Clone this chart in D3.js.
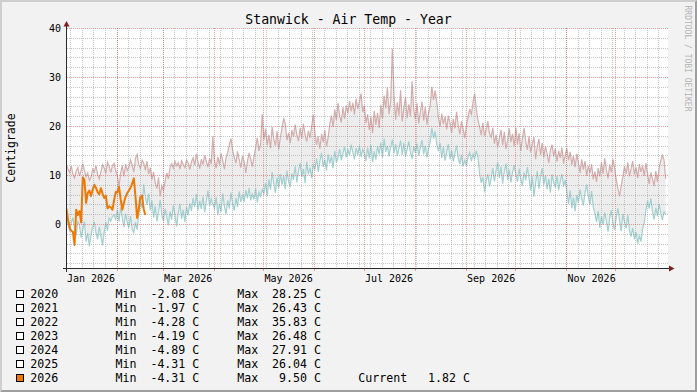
<!DOCTYPE html>
<html>
<head>
<meta charset="utf-8">
<script src="https://cdn.jsdelivr.net/npm/d3@7"></script>
<style>
body { margin: 0; background: #f2f2f2; }
svg { display: block; }
text { font-family: "DejaVu Sans Mono", monospace; }
</style>
</head>
<body>
<script>
// daily max of the previous years (pink line)
var prevMax = [
  // Jan
  12.0, 11.2, 10.5, 11.8, 10.2, 9.4, 10.8, 11.5, 9.8, 10.9, 12.3, 11.0, 9.6, 10.4, 8.9, 9.5, 11.2, 10.6, 11.9, 10.1, 9.2, 10.7, 12.1, 11.4, 10.3, 12.6, 11.8, 10.5, 11.9, 12.4, 10.8,
  // Feb
  9.8, 7.6, 10.4, 11.9, 9.7, 12.2, 10.9, 11.6, 13.1, 12.0, 10.6, 13.4, 14.2, 12.1, 11.3, 13.0, 12.4, 11.0, 12.8, 10.2, 11.5, 9.1, 10.6, 8.4, 7.2, 9.5, 5.6, 7.8,
  // Mar
  6.9, 8.8, 10.4, 9.2, 11.6, 12.3, 11.4, 12.8, 11.9, 12.5, 11.2, 12.9, 12.1, 11.5, 13.0, 12.4, 11.1, 12.7, 13.5, 12.0, 14.3, 12.6, 11.3, 13.2, 12.1, 14.0, 12.8, 11.6, 13.4, 12.2, 17.9,
  // Apr
  12.8, 11.4, 13.7, 12.1, 14.4, 12.9, 11.2, 13.5, 14.6, 16.2, 17.4, 15.1, 13.6, 12.4, 14.8, 13.1, 11.5, 13.9, 12.6, 10.4, 12.8, 14.5, 13.2, 11.7, 13.8, 15.6, 17.6, 14.9, 16.3, 22.4,
  // May
  17.2, 19.4, 16.1, 18.2, 15.4, 19.8, 17.3, 16.0, 18.9, 15.2, 17.7, 19.5, 21.6, 20.4, 17.1, 18.6, 16.5, 19.2, 17.8, 20.3, 18.1, 16.9, 19.6, 17.4, 20.5, 18.3, 16.8, 19.0, 17.5, 19.9, 22.3,
  // Jun
  18.6, 16.2, 17.9, 15.3, 18.4, 16.7, 19.1, 15.8, 17.6, 20.4, 22.1, 19.8, 23.4, 21.2, 24.6, 22.0, 20.7, 23.8, 21.5, 24.2, 22.6, 25.1, 23.0, 24.7, 22.3, 25.6, 23.5, 24.9, 26.6, 22.8,
  // Jul
  24.1, 20.6, 22.4, 19.2, 21.8, 18.5, 23.1, 20.2, 22.7, 19.6, 24.3, 21.5, 26.2, 23.6, 27.9, 22.4, 25.1, 35.8, 26.4, 21.3, 24.8, 22.1, 27.3, 20.9, 23.7, 25.9, 21.6, 24.4, 22.0, 29.1, 23.2,
  // Aug
  21.4, 24.6, 20.5, 22.8, 25.0, 21.1, 23.9, 20.3, 22.6, 24.2, 28.0, 25.3, 27.2, 24.8, 21.6, 19.8, 22.5, 20.4, 21.9, 19.3, 22.1, 20.7, 18.6, 21.4, 19.5, 22.9, 20.2, 18.3, 21.0, 19.4, 17.5,
  // Sep
  20.1, 21.8, 23.5, 22.2, 24.9, 26.6, 23.4, 21.2, 19.8, 18.1, 20.6, 17.9, 19.3, 21.0, 18.4, 17.7, 19.6, 16.4, 18.2, 15.6, 17.5, 19.2, 16.1, 18.8, 15.3, 17.0, 19.5, 16.7, 18.4, 15.8,
  // Oct
  19.7, 16.2, 18.5, 14.9, 17.4, 19.6, 16.8, 15.1, 17.9, 14.6, 16.3, 17.7, 13.2, 15.8, 17.3, 14.1, 16.5, 13.6, 15.9, 14.3, 12.4, 15.1, 16.2, 13.8, 15.4, 12.7, 14.9, 13.5, 15.6, 12.3, 14.1,
  // Nov
  15.4, 13.0, 14.7, 12.1, 13.9, 11.6, 14.3, 12.5, 10.4, 13.2, 11.1, 12.8, 9.8, 11.9, 10.3, 12.2, 9.1, 10.7, 8.6, 11.4, 9.7, 12.6, 10.2, 13.4, 11.0, 9.3, 12.1, 10.5, 13.2, 11.4,
  // Dec
  9.0, 7.2, 5.6, 7.8, 9.6, 11.8, 10.2, 12.5, 9.7, 11.3, 12.8, 10.1, 11.6, 9.4, 12.2, 10.6, 11.9, 9.8, 12.4, 10.3, 8.1, 10.5, 9.2, 7.7, 10.8, 8.6, 11.3, 12.9, 14.0, 13.1, 9.2
];

// daily min of the previous years (teal line)
var prevMin = [
  // Jan
  -0.4, 0.8, -1.6, 0.2, 1.3, -0.9, -2.4, 0.6, -0.3, -2.8, -1.2, 0.5, -3.6, -1.9, -4.6, -2.2, -0.7, 0.4, -1.8, -3.1, -0.6, -2.5, -4.4, -1.7, 0.3, -1.4, 1.2, 0.6, 1.5, 1.8, 0.9,
  // Feb
  2.8, 0.5, 3.4, 1.2, -0.6, 2.1, 0.4, -0.8, 1.6, -1.1, -1.8, 0.3, -1.2, 1.9, 4.6, 3.2, 8.1, 5.4, 3.9, 6.2, 2.7, 4.8, 1.3, 3.6, 0.5, 2.4, 4.9, 1.8,
  // Mar
  0.6, 3.1, 1.4, -0.3, 2.5, 0.9, 3.8, 1.7, -0.5, 2.2, 4.1, 1.0, 2.9, 0.4, 3.5, 1.8, 4.2, 2.6, 5.3, 3.4, 6.1, 2.8, 4.7, 3.0, 5.6, 2.4, 4.4, 6.8, 3.7, 5.1, 4.0,
  // Apr
  3.2, 5.5, 1.8, 4.1, 2.5, 6.2, 3.6, 2.0, 4.8, 3.1, 6.4, 4.0, 2.7, 5.3, 3.4, 6.6, 4.5, 5.8, 4.6, 6.9, 5.2, 7.3, 4.8, 6.1, 5.0, 7.2, 4.4, 6.5, 5.6, 7.0,
  // May
  6.2, 8.4, 5.7, 9.1, 7.0, 10.6, 8.2, 6.3, 9.5, 7.4, 10.2, 8.0, 9.8, 7.1, 10.9, 8.6, 7.8, 10.3, 9.0, 11.8, 8.5, 10.7, 12.4, 9.6, 11.2, 8.3, 12.7, 10.1, 11.5, 9.4, 12.0,
  // Jun
  11.2, 13.4, 10.6, 12.8, 14.5, 11.7, 13.1, 10.9, 14.2, 12.3, 13.8, 11.4, 14.9, 12.6, 13.5, 15.3, 13.0, 14.4, 15.8, 13.6, 15.1, 14.0, 16.2, 14.6, 13.2, 15.5, 14.1, 16.0, 13.7, 15.2,
  // Jul
  14.3, 12.8, 15.6, 13.4, 16.1, 12.6, 14.8, 13.1, 15.9, 14.2, 16.6, 13.5, 17.4, 14.7, 16.0, 13.8, 15.7, 17.2, 14.4, 16.3, 13.9, 15.4, 17.0, 14.1, 16.5, 13.7, 15.2, 16.8, 14.6, 13.3, 15.9,
  // Aug
  14.5, 16.4, 13.9, 15.6, 17.1, 14.2, 16.0, 13.6, 15.3, 16.7, 19.6, 17.4, 18.9, 16.2, 14.8, 16.5, 13.4, 15.7, 12.9, 14.6, 16.3, 13.2, 15.0, 12.7, 14.4, 16.0, 13.5, 12.2, 14.1, 11.8, 13.0,
  // Sep
  11.9, 13.7, 14.6, 12.8, 14.2, 13.3, 14.9, 13.6, 10.2, 8.4, 9.6, 6.5, 8.8, 10.1, 7.6, 9.3, 11.4, 8.7, 10.8, 12.5, 9.4, 11.7, 8.2, 10.6, 12.3, 9.0, 11.1, 8.5, 10.4, 12.0,
  // Oct
  10.2, 8.6, 11.3, 9.1, 7.8, 10.5, 8.9, 11.6, 9.4, 6.8, 9.7, 5.6, 8.3, 10.8, 7.2, 9.5, 11.4, 8.0, 9.9, 7.1, 9.2, 6.4, 10.1, 8.5, 7.4, 9.8, 6.9, 8.7, 10.2, 7.6, 9.0,
  // Nov
  6.5, 4.1, 6.8, 3.2, 5.4, 2.6, 5.9, 4.3, 7.0, 5.1, 3.8, 6.3, 8.1, 5.6, 4.0, 6.7, 3.5, 2.1, 0.4, 2.6, -0.8, 1.5, -0.2, 2.3, 0.6, -1.6, 1.2, 2.8, 0.1, -1.2,
  // Dec
  1.4, 3.2, 0.7, -1.5, 2.0, 0.3, -0.9, 1.8, -1.3, -2.6, -0.8, -3.1, -1.7, -4.0, -2.4, -3.6, -1.0, 0.2, 2.8, 4.6, 3.1, 5.2, 2.4, 0.9, 3.3, 1.6, 4.0, 2.2, 0.8, 2.5, 1.9
];

// this year so far
var temp2026 = [
  3.2, 1.0, -0.8, -1.4, -1.6, -4.3, 2.9, 1.8, 2.6, 0.3, 9.5, 9.0, 4.3, 6.3, 6.8, 5.7, 7.0, 8.0, 7.4, 6.5,
  6.0, 7.3, 6.2, 5.3, 5.8, 3.2, 3.6, 3.4, 2.9, 4.8, 6.5, 6.4, 7.6, 5.0, 2.9, 4.3, 5.6, 6.3, 6.8, 7.4,
  8.2, 9.3, 5.6, 1.2, 3.0, 5.5, 5.8, 3.0, 1.82
];

var years = ["2020", "2021", "2022", "2023", "2024", "2025", "2026"];
var yearMin = [-2.08, -1.97, -4.28, -4.19, -4.89, -4.31, -4.31];
var yearMax = [28.25, 26.43, 35.83, 26.48, 27.91, 26.04, 9.50];
var currentVal = 1.82;

var yMajor = [0, 10, 20, 30, 40];

var W = 697, H = 392;
var pL = 67, pR = 668, pT = 28, pB = 268;
var orange = "#f07800";

var svg = d3.select("body").append("svg")
    .attr("width", W)
    .attr("height", H);

// background + 3d frame
svg.append("rect").attr("width", W).attr("height", H).attr("fill", "#f2f2f2");
svg.append("path")
    .attr("d", "M0," + H + "L2," + (H - 2) + "L2,2L" + (W - 2) + ",2L" + W + ",0L0,0Z")
    .attr("fill", "#cfcfcf");
svg.append("path")
    .attr("d", "M2," + (H - 2) + "L" + (W - 2) + "," + (H - 2) + "L" + (W - 2) + ",2L" + W + ",0L" + W + "," + H + "L0," + H + "Z")
    .attr("fill", "#9e9e9e");

var t0 = new Date(Date.UTC(2026, 0, 1)),
    t1 = new Date(Date.UTC(2027, 0, 1));

var x = d3.scaleUtc().domain([t0, t1]).range([65.5, 666.5]);
var y = d3.scaleLinear().domain([-9, 40]).range([pB, pT]);

function dayDate(i) { return new Date(t0.getTime() + (i + 0.5) * 864e5); }

svg.append("defs").append("clipPath").attr("id", "clip")
  .append("rect")
    .attr("x", pL).attr("y", pT)
    .attr("width", pR - pL).attr("height", pB - pT);

svg.append("rect")
    .attr("x", pL).attr("y", pT)
    .attr("width", pR - pL).attr("height", pB - pT)
    .attr("fill", "#ffffff");

var plot = svg.append("g").attr("clip-path", "url(#clip)");

// band between min and max of earlier years
var band = d3.area()
    .x(function(d, i) { return x(dayDate(i)); })
    .y0(function(d, i) { return y(prevMin[i]); })
    .y1(function(d) { return y(d); });

plot.append("path")
    .datum(prevMax)
    .attr("d", band)
    .attr("fill", "#ededed");

// grid
var grid = svg.append("g");
var minorC = "rgba(143,143,143,0.5)", majorC = "rgba(222,79,79,0.55)";

d3.range(-8, 40, 2).filter(function(v) { return v % 10 !== 0; }).forEach(function(v) {
  var yy = Math.round(y(v)) + 0.5;
  grid.append("line").attr("x1", pL).attr("x2", pR).attr("y1", yy).attr("y2", yy)
      .attr("stroke", minorC).attr("stroke-dasharray", "1,1");
});

var weeks = d3.utcSunday.range(d3.utcDay.offset(t0, 1), t1);
weeks.forEach(function(d) {
  var xx = Math.round(x(d)) + 0.5;
  if (xx <= pL || xx >= pR) return;
  grid.append("line").attr("x1", xx).attr("x2", xx).attr("y1", pT).attr("y2", pB)
      .attr("stroke", minorC).attr("stroke-dasharray", "1,1");
});

yMajor.forEach(function(v) {
  var yy = Math.round(y(v)) + 0.5;
  grid.append("line").attr("x1", pL).attr("x2", pR).attr("y1", yy).attr("y2", yy)
      .attr("stroke", majorC).attr("stroke-dasharray", "1,1");
});

var months = d3.utcMonth.range(d3.utcDay.offset(t0, 1), t1);
months.forEach(function(d) {
  var xx = Math.round(x(d)) + 0.5;
  grid.append("line").attr("x1", xx).attr("x2", xx).attr("y1", pT).attr("y2", pB)
      .attr("stroke", majorC).attr("stroke-dasharray", "1,1");
  grid.append("line").attr("x1", xx).attr("x2", xx).attr("y1", pB).attr("y2", pB + 3)
      .attr("stroke", majorC);
});

// lines
var line = d3.line()
    .x(function(d, i) { return x(dayDate(i)); })
    .y(function(d) { return y(d); });

plot.append("path").datum(prevMax).attr("d", line)
    .attr("fill", "none").attr("stroke", "#d5adad").attr("stroke-width", 1.2);
plot.append("path").datum(prevMin).attr("d", line)
    .attr("fill", "none").attr("stroke", "#a3d0d0").attr("stroke-width", 1.2);
plot.append("path").datum(temp2026).attr("d", line)
    .attr("fill", "none").attr("stroke", orange).attr("stroke-width", 2)
    .attr("stroke-linejoin", "round");

// axes
svg.append("line").attr("x1", 63).attr("x2", 671).attr("y1", pB + 0.5).attr("y2", pB + 0.5)
    .attr("stroke", "#2a2a2a");
svg.append("line").attr("x1", pL - 0.5).attr("x2", pL - 0.5).attr("y1", pB + 4).attr("y2", 24)
    .attr("stroke", "#2a2a2a");
svg.append("path").attr("d", "M674.5," + (pB + 0.5) + "L669," + (pB - 2.5) + "L669," + (pB + 3.5) + "Z")
    .attr("fill", "#801f1f");
svg.append("path").attr("d", "M" + (pL - 0.5) + ",21L" + (pL - 3.5) + ",26.5L" + (pL + 2.5) + ",26.5Z")
    .attr("fill", "#801f1f");

// tick labels
svg.selectAll(".ylab").data(yMajor).enter().append("text")
    .attr("x", 61).attr("y", function(d) { return y(d) + 4; })
    .attr("text-anchor", "end").attr("font-size", "10px").attr("fill", "#000")
    .text(function(d) { return d; });

var fmtMonth = d3.utcFormat("%b %Y");
svg.selectAll(".xlab").data(d3.utcMonth.every(2).range(t0, t1)).enter().append("text")
    .attr("x", function(d) { return x(d3.utcHour.offset(d, 372)); })
    .attr("y", 281.5)
    .attr("text-anchor", "middle").attr("font-size", "10px").attr("fill", "#000")
    .text(function(d) { return fmtMonth(d); });

// title
svg.append("text").attr("x", 348.5).attr("y", 24.3).attr("text-anchor", "middle")
    .attr("font-size", "13.2px").attr("fill", "#000")
    .text("Stanwick - Air Temp - Year");

svg.append("text").attr("transform", "translate(15,148) rotate(-90)")
    .attr("text-anchor", "middle").attr("font-size", "11.5px").attr("fill", "#000")
    .text("Centigrade");

svg.append("text").attr("transform", "translate(685,5.5) rotate(90)")
    .attr("font-size", "8px").attr("fill", "#b4b4b4")
    .text("RRDTOOL / TOBI OETIKER");

// legend
var f6 = d3.format("6.2f");
function num(v) { return f6(v).replace("\u2212", "-"); }

var leg = svg.selectAll(".leg").data(years).enter().append("g")
    .attr("transform", function(d, i) { return "translate(0," + (298 + i * 14) + ")"; })
    .attr("font-size", "11.6px");

leg.append("rect")
    .attr("x", 16.5).attr("y", -7.5).attr("width", 7).attr("height", 7)
    .attr("fill", function(d, i) { return i === years.length - 1 ? orange : "#ffffff"; })
    .attr("stroke", "#000").attr("stroke-width", 1);
leg.append("text").attr("x", 30.2).text(function(d) { return d; });
leg.append("text").attr("x", 115.5).style("white-space", "pre")
    .text(function(d, i) { return "Min " + num(yearMin[i]) + " C"; });
leg.append("text").attr("x", 237.2).style("white-space", "pre")
    .text(function(d, i) { return "Max " + num(yearMax[i]) + " C"; });
leg.filter(function(d, i) { return i === years.length - 1; })
  .append("text").attr("x", 358.3).style("white-space", "pre")
    .text("Current " + num(currentVal) + " C");
</script>
</body>
</html>
